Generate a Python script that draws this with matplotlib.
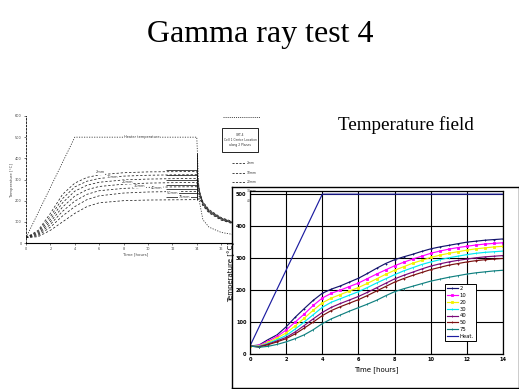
import matplotlib
matplotlib.use("Agg")
import matplotlib.pyplot as plt
from matplotlib.patches import Rectangle

# ---- right chart data: temperature field (0.5 h steps) ----
t_half = [0, 0.5, 1, 1.5, 2, 2.5, 3, 3.5, 4, 4.5, 5, 5.5, 6, 6.5, 7, 7.5,
          8, 8.5, 9, 9.5, 10, 10.5, 11, 11.5, 12, 12.5, 13, 13.5, 14]
temp_2 = [25, 28, 45, 60, 85, 115, 142, 168, 190, 203, 213, 225, 237, 252, 268, 283,
          295, 304, 312, 321, 329, 335, 340, 345, 350, 353, 356, 358, 360]
temp_10 = [25, 27, 40, 55, 75, 100, 125, 152, 175, 190, 200, 211, 222, 236, 250, 263,
           276, 287, 297, 306, 315, 322, 328, 333, 337, 341, 344, 346, 348]
temp_20 = [25, 25, 36, 50, 66, 88, 112, 137, 160, 175, 186, 197, 208, 221, 235, 249,
           262, 273, 284, 293, 302, 309, 315, 320, 325, 329, 332, 335, 337]
temp_30 = [25, 24, 33, 45, 58, 78, 100, 123, 146, 162, 173, 184, 195, 208, 222, 235,
           248, 260, 270, 280, 288, 295, 301, 306, 311, 315, 318, 320, 322]
temp_40 = [25, 23, 31, 41, 52, 69, 89, 110, 130, 146, 158, 169, 180, 193, 207, 221,
           235, 246, 256, 266, 275, 282, 288, 293, 297, 301, 304, 306, 308]
temp_50 = [25, 22, 29, 38, 48, 63, 81, 100, 120, 136, 148, 159, 170, 183, 197, 211,
           225, 236, 246, 255, 264, 271, 278, 283, 288, 292, 295, 297, 299]
temp_75 = [25, 21, 24, 30, 38, 48, 60, 76, 95, 110, 122, 134, 145, 156, 168, 182,
           195, 204, 212, 220, 228, 234, 240, 245, 250, 254, 257, 260, 262]
heat_t = [0, 4, 14]
heat_T = [25, 500, 500]

series = [("2", temp_2, "#14146e", "+"),
          ("10", temp_10, "#ff00ff", "s"),
          ("20", temp_20, "#f2f200", "s"),
          ("30", temp_30, "#00e8f0", "|"),
          ("40", temp_40, "#7a0a7a", "+"),
          ("50", temp_50, "#7a1010", "+"),
          ("75", temp_75, "#108080", "|")]

# ---- left chart data (faded background figure) ----
lt = [0, 1, 2, 3, 4, 5, 6, 8, 10, 12, 14, 14.25, 14.5, 15, 16, 17]
left_sensors = [
    [25, 60, 140, 230, 283, 310, 322, 332, 336, 337, 338, 240, 195, 158, 120, 100],
    [25, 55, 125, 210, 265, 292, 305, 316, 320, 322, 323, 236, 192, 155, 118, 98],
    [25, 50, 112, 190, 245, 273, 287, 298, 302, 304, 305, 232, 189, 152, 116, 96],
    [25, 45, 100, 170, 222, 252, 267, 278, 283, 285, 286, 228, 186, 150, 114, 95],
    [25, 40, 88, 150, 198, 230, 247, 258, 263, 265, 266, 224, 183, 148, 112, 93],
    [25, 35, 75, 128, 172, 205, 223, 236, 241, 243, 244, 218, 180, 145, 110, 92],
    [25, 30, 60, 100, 140, 172, 190, 200, 203, 204, 205, 210, 176, 142, 108, 90],
]
left_labels = ["2mm", "10mm", "20mm", "30mm", "40mm", "50mm", "75mm"]
label_t = [6.1, 7.1, 8.3, 9.3, 10.7, 12.0, 13.0]
label_T = [335, 311, 288, 269, 259, 236, 217]
left_heat_t = [0, 4, 14, 14.2, 14.5, 15, 16, 17]
left_heat_T = [25, 500, 500, 200, 110, 75, 50, 40]
meas_levels = [344, 321, 297, 274, 255, 236, 217]

fig = plt.figure(figsize=(5.19, 3.89), dpi=100)
fig.patch.set_facecolor("white")

fig.text(0.501, 0.892, "Gamma ray test 4", family="Liberation Serif",
         fontsize=23, ha="center", va="baseline")
fig.text(0.782, 0.666, "Temperature field", family="Liberation Serif",
         fontsize=13.8, ha="center", va="baseline")

# ---- left (background) chart ----
axl = fig.add_axes([0.0501, 0.3753, 0.4231, 0.3265], zorder=1)
axl.set_facecolor("none")
for sp in ["top", "right"]:
    axl.spines[sp].set_visible(False)
axl.spines["left"].set_linestyle((0, (2, 2)))
axl.spines["left"].set_linewidth(0.6)
axl.spines["bottom"].set_linewidth(0.8)
axl.plot(left_heat_t, left_heat_T, color="#222222", lw=0.55, ls=(0, (1.5, 1.8)))
for vals in left_sensors:
    axl.plot(lt, vals, color="#222222", lw=0.55, ls=(0, (3, 2.5)))
axl.hlines(meas_levels, 11.5, 14, color="black", lw=0.5)
axl.vlines(14, 203, 425, color="black", lw=0.6)
for lab, x, y in zip(left_labels, label_t, label_T):
    axl.text(x, y, lab, fontsize=2.5, ha="center", va="center", color="#333333",
             bbox=dict(facecolor="white", edgecolor="none", pad=0.3))
axl.text(9.5, 500, "Heater temperature", fontsize=2.5, ha="center", va="center",
         color="#333333", bbox=dict(facecolor="white", edgecolor="none", pad=0.3))
axl.set_xlim(0, 18)
axl.set_ylim(0, 600)
axl.set_xticks(range(0, 19, 2))
axl.set_yticks(range(0, 601, 100))
axl.tick_params(labelsize=2.5, length=1.5, width=0.5, colors="#444444", pad=1.5)
axl.set_xlabel("Time [hours]", fontsize=2.8, labelpad=1, color="#444444")
axl.set_ylabel("Temperature [°C]", fontsize=2.8, labelpad=1, color="#444444")

fig.add_artist(Rectangle((0.428, 0.61), 0.07, 0.06, transform=fig.transFigure,
                         facecolor="white", edgecolor="black", lw=0.6, zorder=1))
fig.text(0.463, 0.64, "GRT-4\nCell 1 Centre Location\nalong 2 Planes",
         fontsize=2.2, ha="center", va="center", color="#333333", zorder=2,
         linespacing=1.3)
fig.add_artist(plt.Line2D([0.43, 0.50], [0.70, 0.70], transform=fig.transFigure,
                          color="black", lw=0.5, ls=(0, (1.5, 1.5)), zorder=1))
for i, lab in enumerate(left_labels[:5]):
    yy = 0.605 - 0.025 - i * 0.024
    fig.add_artist(plt.Line2D([0.447, 0.472], [yy, yy], transform=fig.transFigure,
                              color="black", lw=0.5, ls=(0, (3, 2)), zorder=1))
    fig.text(0.476, yy, lab, fontsize=2.2, va="center", color="#333333", zorder=2)

# ---- white frame of the right chart ----
frame = fig.add_axes([0.447, 0.0026, 0.553, 0.517], zorder=2)
frame.set_xticks([])
frame.set_yticks([])
frame.set_facecolor("white")
for sp in frame.spines.values():
    sp.set_linewidth(1.0)

# ---- right chart ----
ax = fig.add_axes([0.4817, 0.0900, 0.4875, 0.419], zorder=3)
ax.set_facecolor("white")
for name, vals, col, mk in series:
    ax.plot(t_half, vals, color=col, lw=0.85, marker=mk, ms=1.8, mew=0.6, label=name)
ax.plot(heat_t, heat_T, color="#1c1ca0", lw=0.85, label="Heat.")
ax.set_xlim(0, 14)
ax.set_ylim(0, 510)
ax.set_xticks(range(0, 15, 2))
ax.set_yticks(range(0, 501, 100))
ax.grid(True, color="black", lw=0.8)
ax.set_axisbelow(True)
ax.tick_params(labelsize=3.6, length=0, pad=2.5)
for lbl in ax.get_xticklabels() + ax.get_yticklabels():
    lbl.set_fontweight("bold")
ax.set_xlabel("Time [hours]", fontsize=5, labelpad=3)
ax.set_ylabel("Temperature [°C]", fontsize=5, labelpad=1)
for sp in ax.spines.values():
    sp.set_linewidth(0.9)
leg = ax.legend(loc="upper left", bbox_to_anchor=(0.771, 0.43), fontsize=3.8,
                fancybox=False, edgecolor="black", framealpha=1,
                handlelength=2.0, labelspacing=0.35, borderpad=0.4,
                handletextpad=0.4, borderaxespad=0)
leg.get_frame().set_linewidth(0.7)

fig.savefig("out.png", dpi=100, facecolor="white")
